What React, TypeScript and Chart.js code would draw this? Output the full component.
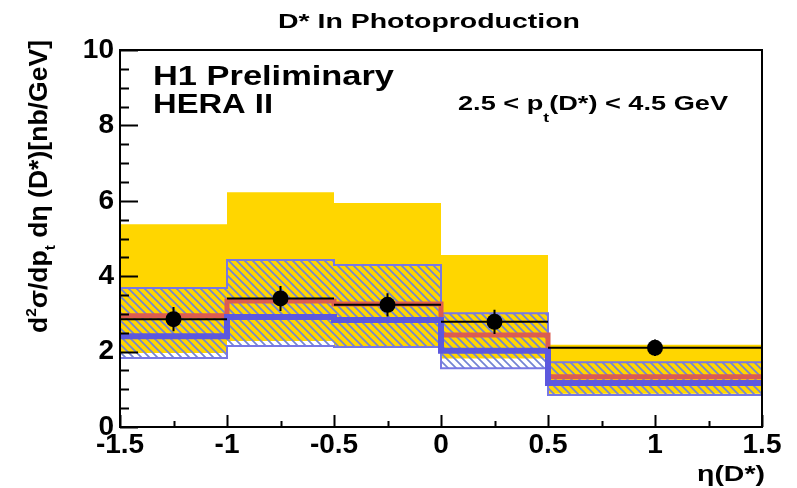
import React, { useEffect, useRef } from "react";
import { Chart, registerables } from "chart.js";

Chart.register(...registerables);

// ---------------- data ----------------
const binEdges = [-1.5, -1, -0.5, 0, 0.5, 1.5];
const binCenters = [-1.25, -0.75, -0.25, 0.25, 1.0];
const dataValues = [2.86, 3.41, 3.24, 2.79, 2.1];
const dataErrors = [0.32, 0.33, 0.31, 0.32, 0.22];
const yellowHigh = [5.38, 6.23, 5.94, 4.56, 2.18];
const yellowLow = [1.96, 2.28, 2.15, 1.82, 0.88];
const hatchHigh = [3.69, 4.43, 4.3, 3.02, 1.72];
const hatchLow = [1.83, 2.15, 2.12, 1.56, 0.85];
const redCentral = [2.95, 3.34, 3.26, 2.44, 1.33];
const blueCentral = [2.41, 2.92, 2.84, 2.02, 1.17];
const xTickValues = [-1.5, -1, -0.5, 0, 0.5, 1, 1.5];
const yTickValues = [0, 2, 4, 6, 8, 10];

const titleText = "D* In Photoproduction";
const labelLine1 = "H1 Preliminary";
const labelLine2 = "HERA II";

const FONT = "'Liberation Sans', Arial, Helvetica, sans-serif";

function stepPoints(values: number[]) {
  return binEdges.map((x, i) => ({ x, y: values[Math.min(i, values.length - 1)] }));
}

function makeHatch(): CanvasPattern | string {
  const s = 8;
  const c = document.createElement("canvas");
  c.width = s;
  c.height = s;
  const g = c.getContext("2d");
  if (!g) return "rgba(110,130,215,0.5)";
  g.strokeStyle = "rgb(115,132,212)";
  g.lineWidth = 1.7;
  g.beginPath();
  g.moveTo(-2, -2);
  g.lineTo(s + 2, s + 2);
  g.moveTo(-2, s - 2);
  g.lineTo(2, s + 2);
  g.moveTo(s - 2, -2);
  g.lineTo(s + 2, 2);
  g.stroke();
  return g.createPattern(c, "repeat") || "rgba(110,130,215,0.5)";
}

type Run = { t: string; size: number; dy: number };

function drawRuns(
  ctx: CanvasRenderingContext2D,
  runs: Run[],
  weight: string,
  targetWidth: number
) {
  const widths = runs.map((r) => {
    ctx.font = `${weight} ${r.size}px ${FONT}`;
    return ctx.measureText(r.t).width;
  });
  const total = widths.reduce((a, b) => a + b, 0);
  const sx = targetWidth > 0 ? targetWidth / total : 1;
  ctx.save();
  ctx.scale(sx, 1);
  let cx = 0;
  runs.forEach((r, i) => {
    ctx.font = `${weight} ${r.size}px ${FONT}`;
    ctx.fillText(r.t, cx, r.dy);
    cx += widths[i];
  });
  ctx.restore();
}

const decorPlugin = {
  id: "decor",
  afterDatasetsDraw(chart: any) {
    const ctx: CanvasRenderingContext2D = chart.ctx;
    const xs = chart.scales.x;
    const ys = chart.scales.y;
    ctx.save();
    ctx.strokeStyle = "#000";
    ctx.lineWidth = 2;
    ctx.beginPath();
    binCenters.forEach((c, i) => {
      const px = xs.getPixelForValue(c);
      const py = ys.getPixelForValue(dataValues[i]);
      ctx.moveTo(xs.getPixelForValue(binEdges[i]), py);
      ctx.lineTo(xs.getPixelForValue(binEdges[i + 1]), py);
      ctx.moveTo(px, ys.getPixelForValue(dataValues[i] - dataErrors[i]));
      ctx.lineTo(px, ys.getPixelForValue(dataValues[i] + dataErrors[i]));
    });
    ctx.stroke();
    ctx.restore();
  },
  afterDraw(chart: any) {
    const ctx: CanvasRenderingContext2D = chart.ctx;
    const a = chart.chartArea;
    const xs = chart.scales.x;
    const ys = chart.scales.y;
    ctx.save();
    // frame
    ctx.strokeStyle = "#000";
    ctx.lineWidth = 2;
    ctx.strokeRect(a.left, a.top, a.right - a.left, a.bottom - a.top);
    // y ticks
    ctx.beginPath();
    for (let k = 0; k <= 20; k++) {
      const v = k * 0.5;
      const py = Math.round(ys.getPixelForValue(v)) + 0.5;
      const len = k % 4 === 0 ? 18 : 9;
      ctx.moveTo(a.left, py);
      ctx.lineTo(a.left + len, py);
    }
    // x ticks
    for (let k = 0; k <= 12; k++) {
      const v = -1.5 + k * 0.25;
      const px = Math.round(xs.getPixelForValue(v)) + 0.5;
      const len = k % 2 === 0 ? 12 : 6;
      ctx.moveTo(px, a.bottom);
      ctx.lineTo(px, a.bottom - len);
    }
    ctx.stroke();

    ctx.fillStyle = "#000";
    ctx.textBaseline = "alphabetic";
    ctx.textAlign = "left";
    // title
    ctx.save();
    ctx.translate(278, 28);
    drawRuns(ctx, [{ t: titleText, size: 20, dy: 0 }], "bold", 302);
    ctx.restore();
    // H1 Preliminary / HERA II
    ctx.save();
    ctx.translate(153, 85);
    drawRuns(ctx, [{ t: labelLine1, size: 27, dy: 0 }], "bold", 241);
    ctx.restore();
    ctx.save();
    ctx.translate(153, 113);
    drawRuns(ctx, [{ t: labelLine2, size: 27, dy: 0 }], "bold", 120);
    ctx.restore();
    // pt range
    ctx.save();
    ctx.translate(458, 110);
    drawRuns(
      ctx,
      [
        { t: "2.5 < p", size: 20, dy: 0 },
        { t: "t", size: 13, dy: 12 },
        { t: "(D*) < 4.5 GeV", size: 20, dy: 0 },
      ],
      "bold",
      270
    );
    ctx.restore();
    // x title
    ctx.save();
    ctx.translate(697, 481);
    drawRuns(ctx, [{ t: "η(D*)", size: 22, dy: 0 }], "bold", 68);
    ctx.restore();
    // y title
    ctx.save();
    ctx.translate(47, 333);
    ctx.rotate(-Math.PI / 2);
    drawRuns(
      ctx,
      [
        { t: "d", size: 26, dy: 0 },
        { t: "2", size: 15, dy: -11 },
        { t: "σ/dp", size: 26, dy: 0 },
        { t: "t", size: 15, dy: 8 },
        { t: " dη (D*)[nb/GeV]", size: 26, dy: 0 },
      ],
      "bold",
      293
    );
    ctx.restore();
    ctx.restore();
  },
};

export default function App() {
  const ref = useRef<HTMLCanvasElement | null>(null);

  useEffect(() => {
    if (!ref.current) return;
    const hatch = makeHatch();
    const tickFont = { family: FONT, size: 28, weight: "bold" as const };
    const chart = new Chart(ref.current, {
      type: "line",
      data: {
        datasets: [
          {
            label: "data",
            data: binCenters.map((x, i) => ({ x, y: dataValues[i] })),
            showLine: false,
            pointRadius: 8,
            pointBackgroundColor: "#000",
            pointBorderColor: "#000",
            pointBorderWidth: 0,
            order: 0,
          },
          {
            label: "blue",
            data: stepPoints(blueCentral),
            stepped: true,
            borderColor: "rgb(92,88,222)",
            borderWidth: 6,
            pointRadius: 0,
            fill: false,
            order: 1,
          },
          {
            label: "red",
            data: stepPoints(redCentral),
            stepped: true,
            borderColor: "rgb(220,92,80)",
            borderWidth: 5,
            pointRadius: 0,
            fill: false,
            order: 2,
          },
          {
            label: "hatchLow",
            data: stepPoints(hatchLow),
            stepped: true,
            borderColor: "rgb(120,120,228)",
            borderWidth: 2,
            pointRadius: 0,
            fill: false,
            order: 3,
          },
          {
            label: "hatchHigh",
            data: stepPoints(hatchHigh),
            stepped: true,
            borderColor: "rgb(120,120,228)",
            borderWidth: 2,
            pointRadius: 0,
            fill: "-1",
            backgroundColor: hatch as any,
            order: 4,
          },
          {
            label: "yellowLow",
            data: stepPoints(yellowLow),
            stepped: true,
            borderWidth: 0,
            borderColor: "rgba(0,0,0,0)",
            pointRadius: 0,
            fill: false,
            order: 5,
          },
          {
            label: "yellowHigh",
            data: stepPoints(yellowHigh),
            stepped: true,
            borderWidth: 0,
            borderColor: "rgba(0,0,0,0)",
            pointRadius: 0,
            fill: "-1",
            backgroundColor: "rgb(255,214,0)",
            order: 6,
          },
        ],
      },
      options: {
        responsive: false,
        animation: false,
        devicePixelRatio: 1,
        layout: { padding: { top: 50, right: 35, left: 0, bottom: 0 } },
        plugins: {
          legend: { display: false },
          tooltip: { enabled: false },
          title: { display: false },
        },
        scales: {
          x: {
            type: "linear",
            min: -1.5,
            max: 1.5,
            afterBuildTicks: (scale: any) => {
              scale.ticks = xTickValues.map((v) => ({ value: v }));
            },
            ticks: {
              font: tickFont,
              color: "#000",
              padding: 1,
              maxRotation: 0,
              autoSkip: false,
              callback: (v: any) => String(v),
            },
            grid: { display: false, drawTicks: false },
            border: { display: false },
            afterFit: (scale: any) => {
              scale.height = 61;
            },
          },
          y: {
            type: "linear",
            min: 0,
            max: 10,
            afterBuildTicks: (scale: any) => {
              scale.ticks = yTickValues.map((v) => ({ value: v }));
            },
            ticks: {
              font: tickFont,
              color: "#000",
              padding: 6,
              autoSkip: false,
              callback: (v: any) => String(v),
            },
            grid: { display: false, drawTicks: false },
            border: { display: false },
            afterFit: (scale: any) => {
              scale.width = 120;
            },
          },
        },
      },
      plugins: [decorPlugin],
    });
    return () => chart.destroy();
  }, []);

  return (
    <div style={{ position: "absolute", left: 0, top: 0, width: 797, height: 488, background: "#fff" }}>
      <canvas ref={ref} width={797} height={488} style={{ display: "block" }} />
    </div>
  );
}
